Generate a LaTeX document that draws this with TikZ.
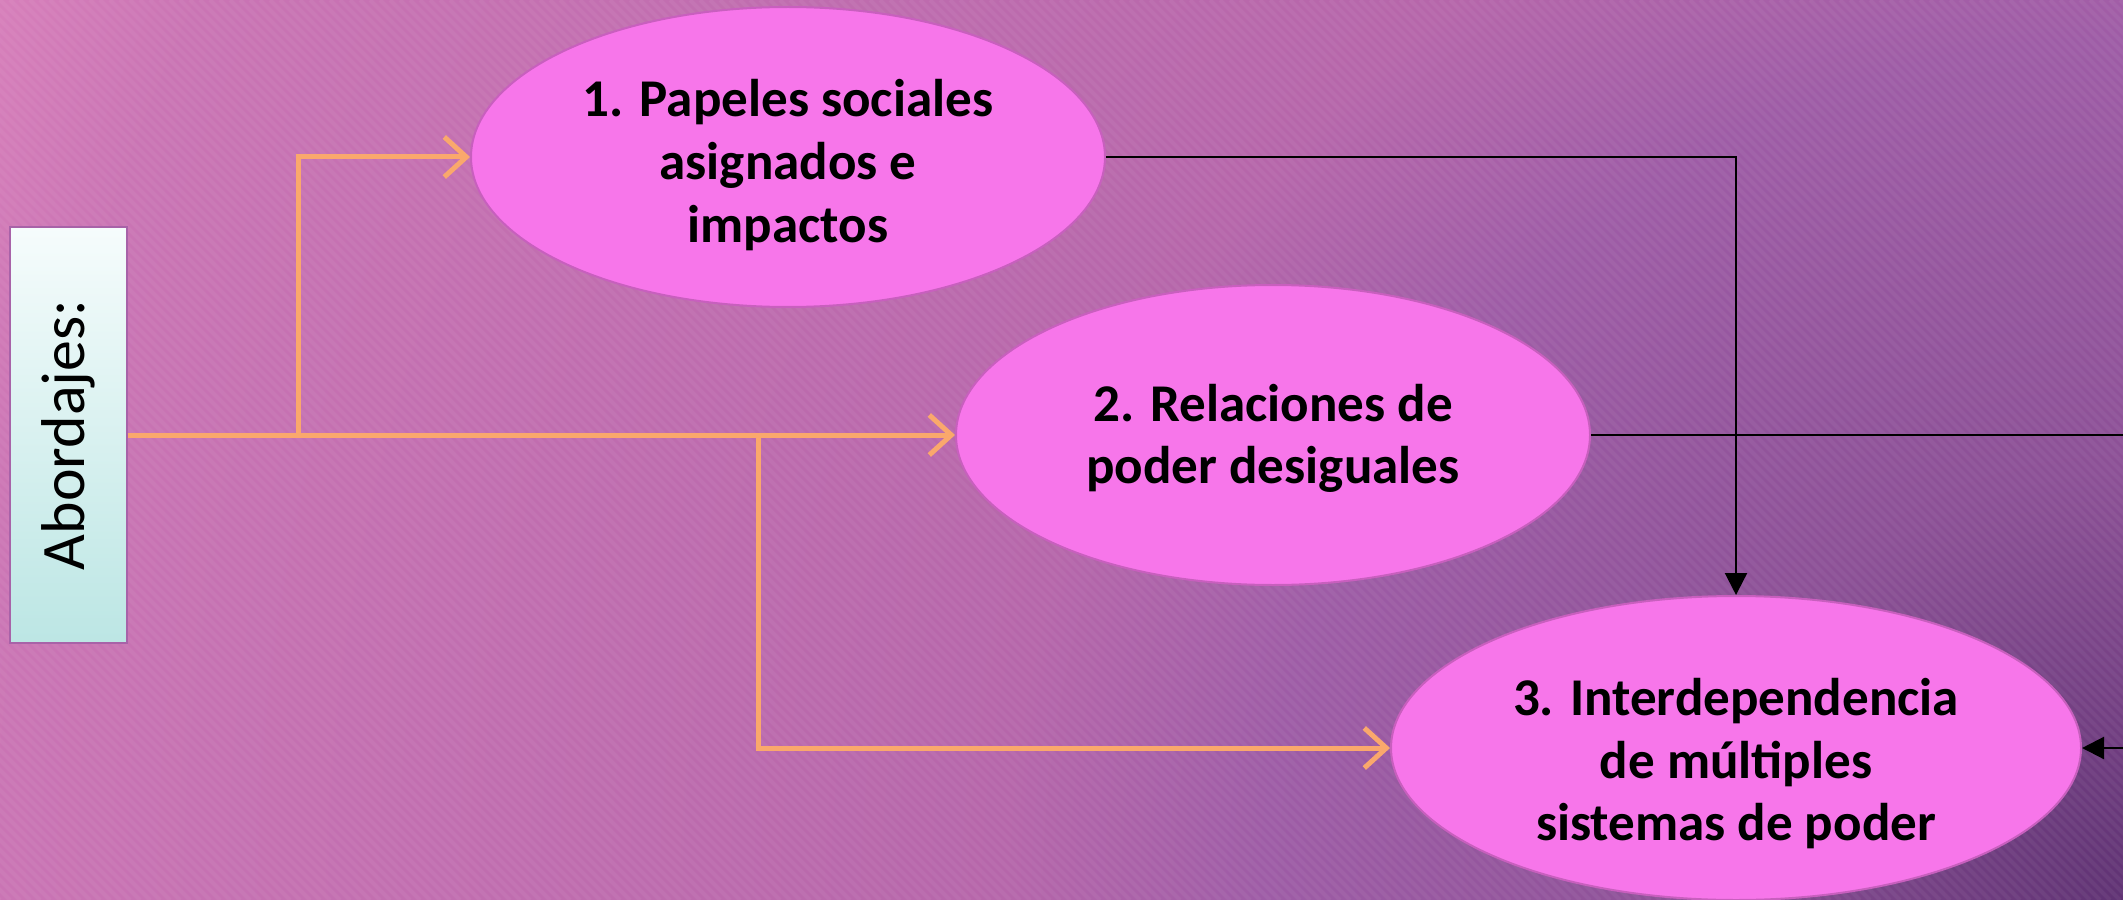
\documentclass[tikz,border=0pt]{standalone}
\usepackage{fontspec}
\usepackage{graphicx}
\setmainfont{Carlito}
\usetikzlibrary{shapes.geometric, arrows.meta}
\definecolor{ovalfill}{RGB}{247,118,234}
\definecolor{ovaldraw}{RGB}{200,95,190}
\definecolor{boxtop}{RGB}{246,252,252}
\definecolor{boxbot}{RGB}{188,230,228}
\definecolor{boxdraw}{RGB}{168,98,168}
\definecolor{linkorange}{RGB}{250,168,108}
\pgfdeclareradialshading{bgglow}{\pgfpoint{0bp}{0bp}}{%
  rgb(0bp)=(0.373,0.196,0.451);
  rgb(4.3bp)=(0.549,0.314,0.588);
  rgb(8.6bp)=(0.620,0.361,0.651);
  rgb(11.2bp)=(0.714,0.400,0.667);
  rgb(21.2bp)=(0.792,0.455,0.706);
  rgb(23bp)=(0.839,0.494,0.729);
  rgb(50bp)=(0.839,0.494,0.729)}
\newcommand{\dropby}[1]{\rule{0pt}{\dimexpr 10.6pt+#1\relax}}
\tikzstyle{approach} = [ellipse, minimum width=63.4mm, minimum height=30mm, inner sep=0pt, align=center, draw=ovaldraw, line width=0.2mm, fill=ovalfill, font=\fontsize{15.1}{17.8}\selectfont\bfseries]
\tikzstyle{titlebox} = [rectangle, minimum width=11.7mm, minimum height=41.6mm, inner sep=0pt, draw=boxdraw, line width=0.2mm, top color=boxtop, bottom color=boxbot, font=\fontsize{17.6}{20}\selectfont]
\tikzstyle{arrowo} = [draw=linkorange, line width=0.5mm, -{Straight Barb[length=2.2mm, width=4mm]}]
\tikzstyle{arrowb} = [draw=black, line width=0.22mm, -{Triangle[length=2.2mm, width=2.2mm]}]

\begin{document}
\begin{tikzpicture}[x=0.1mm, y=-0.1mm]
\useasboundingbox (0,0) rectangle (2123,900);
\clip (0,0) rectangle (2123,900);
% background, darkest in the lower right corner
\fill[shading=bgglow] (-377,-1600) rectangle (4623,3400);
\foreach \i in {-900,-890,...,2130}
  \draw[white, opacity=0.05, line width=0.4mm] (\i,0) -- ++(900,900);

\node (abord) [titlebox] at (68,435) {\rotatebox{90}{Abordajes:}};
\node (roles) [approach] at (788,157) {\dropby{4.6pt}1. Papeles sociales\\asignados e\\impactos};
\node (power) [approach] at (1273,435) {\dropby{2pt}2. Relaciones de\\poder desiguales};
\node (inter) [approach, minimum width=69mm, minimum height=30.4mm] at (1736,748) {\dropby{9pt}3. Interdependencia\\de múltiples\\sistemas de poder};

\coordinate (split1) at (298,435);
\coordinate (split2) at (758,435);
\coordinate (offright) at (2170,435);

\draw[arrowo] (abord.east) -- (power.west);
\draw[arrowo] (split1) |- (roles.west);
\draw[arrowo] (split2) |- (inter.west);

\draw[arrowb] (roles.east) -| (inter.north);
\draw[arrowb] (power.east) -- (offright) |- (inter.east);
\end{tikzpicture}
\end{document}
